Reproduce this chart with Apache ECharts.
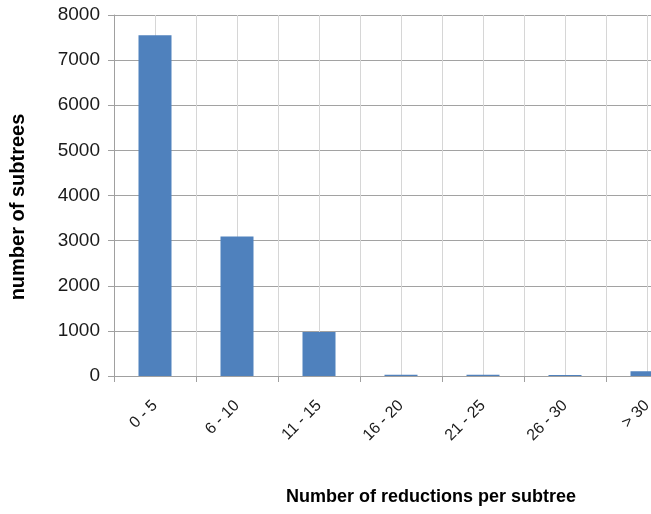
<!DOCTYPE html>
<html>
<head>
<meta charset="utf-8">
<script src="https://cdn.jsdelivr.net/npm/echarts@6/dist/echarts.min.js"></script>
<style>
  html, body { margin: 0; padding: 0; background: #fff; overflow: hidden; }
  /* the plot runs past the right edge of the window, so the canvas is wider than the view */
  #chart { width: 700px; height: 514px; }
</style>
</head>
<body>
<div id="chart"></div>
<script>
// Histogram: how many subtrees fall into each reductions-count bucket
const categories = ['0 - 5', '6 - 10', '11 - 15', '16 - 20', '21 - 25', '26 - 30', '> 30'];
const subtreeCounts = [7550, 3090, 975, 30, 25, 20, 105];
const yTicks = { min: 0, max: 8000, interval: 1000 };

const chart = echarts.init(document.getElementById('chart'));

const FONT = 'Liberation Sans, Arial, sans-serif';

chart.setOption({
  animation: false,
  backgroundColor: '#ffffff',
  grid: { left: 114, top: 15, width: 574, height: 361, containLabel: false },
  xAxis: [
    {
      type: 'category',
      data: categories,
      boundaryGap: true,
      axisLine: { show: true, lineStyle: { color: '#a0a0a0', width: 1 } },
      axisTick: { show: true, alignWithLabel: false, length: 6, lineStyle: { color: '#a0a0a0' } },
      axisLabel: {
        rotate: 45,
        margin: 27,
        fontFamily: FONT,
        fontSize: 16,
        color: '#1a1a1a'
      },
      splitLine: { show: false }
    },
    {
      // half-category guide lines across the plot
      type: 'value',
      position: 'bottom',
      min: 0,
      max: categories.length,
      interval: 0.5,
      axisLine: { show: false },
      axisTick: { show: false },
      axisLabel: { show: false },
      splitLine: { show: true, lineStyle: { color: '#d6d6d6', width: 1 } }
    }
  ],
  yAxis: {
    type: 'value',
    min: yTicks.min,
    max: yTicks.max,
    interval: yTicks.interval,
    axisLine: { show: true, lineStyle: { color: '#a0a0a0', width: 1 } },
    axisTick: { show: true, length: 6, lineStyle: { color: '#a0a0a0' } },
    axisLabel: {
      fontFamily: FONT, fontSize: 19, color: '#1a1a1a', margin: 14,
      formatter: v => String(v)
    },
    splitLine: { show: true, lineStyle: { color: '#a2a2a2', width: 1 } }
  },
  series: [{
    type: 'bar',
    xAxisIndex: 0,
    data: subtreeCounts,
    barWidth: 33,
    itemStyle: { color: '#4f81bd' },
    z: 3
  }],
  graphic: [
    {
      type: 'text',
      x: 431,
      y: 497,
      style: {
        text: 'Number of reductions per subtree',
        font: 'bold 18px ' + FONT,
        fill: '#000',
        textAlign: 'center',
        textVerticalAlign: 'middle'
      }
    },
    {
      type: 'text',
      x: 18,
      y: 207,
      rotation: Math.PI / 2,
      style: {
        text: 'number of subtrees',
        font: 'bold 20px ' + FONT,
        fill: '#000',
        textAlign: 'center',
        textVerticalAlign: 'middle'
      }
    }
  ]
});
</script>
</body>
</html>
